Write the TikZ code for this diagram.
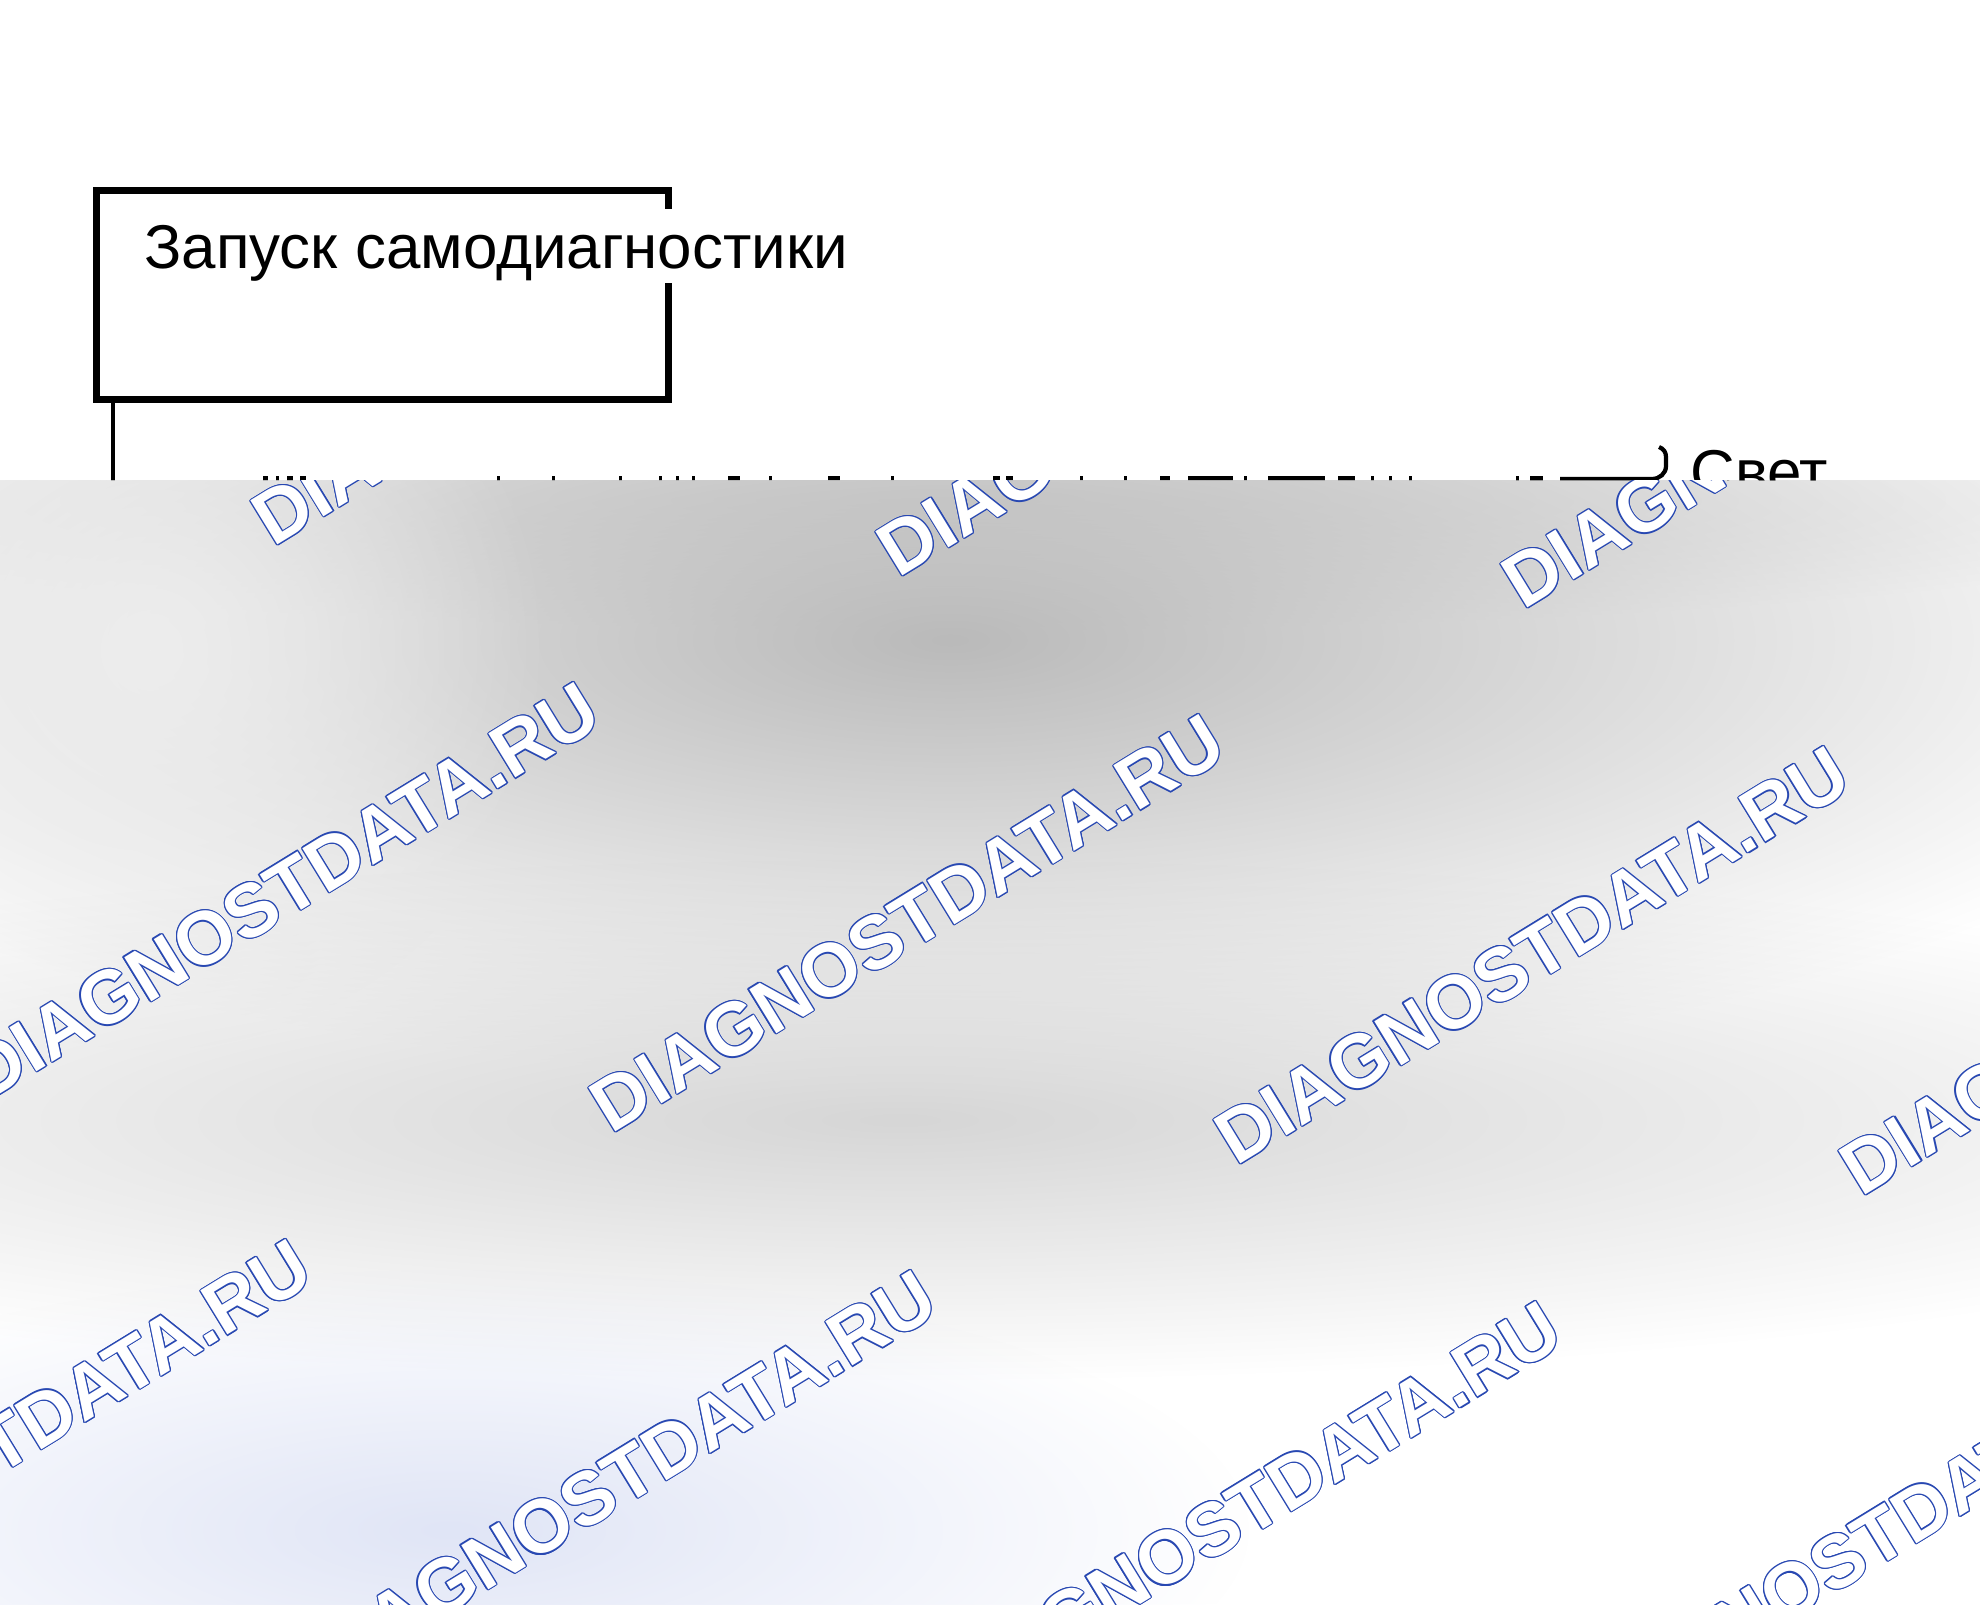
\documentclass[tikz,border=0pt]{standalone}
\usepackage{fontspec}
\setmainfont{Liberation Sans}
\usetikzlibrary{fadings}

\definecolor{wm_blue}{RGB}{40,72,178}
\definecolor{haze_blue}{RGB}{224,229,246}

\tikzfading[name=soft_blob, inner color=transparent!0, outer color=transparent!100]

\tikzset{
	box/.style={draw, line width=1.9pt, inner sep=0pt},
	caption/.style={font=\fontsize{17.6pt}{20pt}\selectfont, inner sep=0pt, anchor=base west},
	wmark/.style={font=\fontsize{21.4pt}{24pt}\selectfont\bfseries, inner sep=0pt, anchor=base west, rotate=31.5},
	haze/.style={path fading=soft_blob},
}

% outlined watermark: blue copies round a white one
\newcommand{\watermark}[2]{%
	\foreach \ang in {0,30,...,330}
		\node[wmark, text=wm_blue] at ([shift={(\ang:1.2)}]#1,#2) {DIAGNOSTDATA.RU};
	\node[wmark, text=white] at (#1,#2) {DIAGNOSTDATA.RU};
}

\begin{document}
\begin{tikzpicture}[x=0.01cm, y=-0.01cm]
	\useasboundingbox (0,0) rectangle (1980,1604);

	%% START BOX
	\node[box, minimum width=5.72cm, minimum height=2.09cm](start_box) at (382.5,295){};
	\node[caption, fill=white, inner xsep=3pt, text height=17pt, text depth=4pt](start_label) at (133,269){Запуск самодиагностики};

	\coordinate (sig_end) at (113,560);
	\draw[line width=1.3pt] (113,0 |- start_box.south) -- (sig_end);

	%% LIGHT SIGNAL
	\node[caption](light_label) at (1690,494){Свет};
	\coordinate (light_in) at (1560,479);
	\draw[line width=1.2pt] (light_in) -- (1652,479) to[out=0,in=-90] (1666,466) -- (1666,457) to[out=90,in=-20] (1659,447);

	% tops of the pulses
	\foreach \xa/\xb in {263/268, 276/279, 287/293, 300/306, 497/500, 552/555, 619/622, 659/662,
		676/679, 692/695, 728/740, 769/772, 828/840, 891/894, 993/1000, 1006/1013, 1080/1083,
		1124/1127, 1160/1170, 1188/1233, 1244/1247, 1268/1325, 1338/1355, 1371/1374, 1389/1392,
		1409/1412, 1516/1519, 1530/1543}
		\fill (\xa,476) rectangle (\xb,482);

	%% HAZE AND WATERMARKS
	\begin{scope}
		\clip (0,481) rectangle (1980,1604);
		\fill[white] (0,481) rectangle (1980,1604);
		\fill[black!13, haze] (960,500) ellipse (1350 and 130);
		\fill[black!27, haze] (950,640) ellipse (1350 and 440);
		\fill[black!7, haze] (150,650) ellipse (400 and 400);
		\fill[black!16, haze] (900,1120) ellipse (1600 and 260);
		\fill[haze_blue, haze] (450,1530) ellipse (800 and 260);

		\watermark{273}{548}
		\watermark{898}{579}
		\watermark{1523}{611}
		\watermark{-14}{1103}
		\watermark{611}{1135}
		\watermark{1236}{1167}
		\watermark{1861}{1198}
		\watermark{-302}{1660}
		\watermark{323}{1691}
		\watermark{948}{1722}
		\watermark{1573}{1754}
	\end{scope}
\end{tikzpicture}
\end{document}
